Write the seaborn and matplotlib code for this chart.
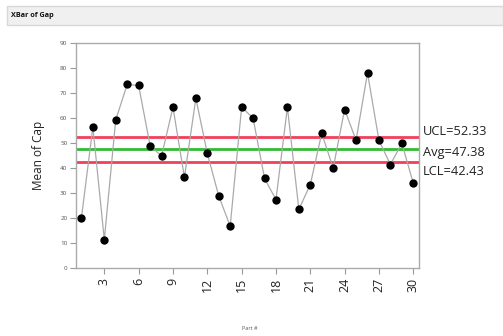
import matplotlib
matplotlib.use("Agg")
import matplotlib.pyplot as plt
import seaborn as sns
import pandas as pd
from matplotlib.patches import Rectangle

parts = list(range(1, 31))
means = [20.0, 56.3, 11.3, 59.2, 73.3, 72.9, 48.9, 44.7, 64.2, 36.2,
         67.8, 45.8, 28.8, 16.7, 64.2, 59.9, 35.8, 27.3, 64.2, 23.4,
         33.3, 53.8, 39.9, 63.3, 51.0, 77.9, 51.0, 41.3, 49.8, 33.9]
ucl = 52.33
avg = 47.38
lcl = 42.43
xticks = [3, 6, 9, 12, 15, 18, 21, 24, 27, 30]
yticks = [0, 10, 20, 30, 40, 50, 60, 70, 80, 90]

df = pd.DataFrame({"Part #": parts, "Mean of Cap": means})

sns.set_theme(style="white")
plt.rcParams['font.family'] = ['Open Sans', 'DejaVu Sans']

fig = plt.figure(figsize=(5.03, 3.36), dpi=100)
ax = fig.add_axes([0.1505, 0.2024, 0.6825, 0.6706])

# title bar
fig.patches.append(Rectangle((7 / 503, 1 - 25 / 336), 1 - 7 / 503, 19 / 336,
                             transform=fig.transFigure, facecolor="#f0f0f0",
                             edgecolor="#d8d8d8", linewidth=1, zorder=0))
fig.text(11 / 503, 1 - 15.5 / 336, "XBar of Gap", fontsize=5.2, fontweight="bold",
         va="center", ha="left", color="#111111")

ax.axhline(ucl, color="#f0405a", linewidth=2, zorder=1)
ax.axhline(lcl, color="#f0405a", linewidth=2, zorder=1)
ax.axhline(avg, color="#33bb33", linewidth=2, zorder=1)

sns.lineplot(data=df, x="Part #", y="Mean of Cap", ax=ax, color="#aaaaaa",
             linewidth=0.9, zorder=2)
sns.scatterplot(data=df, x="Part #", y="Mean of Cap", ax=ax, color="black",
                s=36, edgecolor="black", linewidth=0, zorder=3)

ax.set_xlim(0.5, 30.5)
ax.set_ylim(0, 90)
ax.set_xticks(xticks)
ax.set_xticklabels([str(t) for t in xticks], rotation=90, fontsize=9,
                   color="#222222")
ax.set_yticks(yticks)
ax.set_yticklabels([str(t) for t in yticks], fontsize=4.5, color="#555555")
ax.tick_params(axis="both", direction="out", length=4, width=0.8,
               color="#999999", left=True, bottom=True, pad=2)
ax.tick_params(axis="x", pad=3)
for s in ax.spines.values():
    s.set_color("#aaaaaa")
    s.set_linewidth(1.0)

ax.set_ylabel("Mean of Cap", fontsize=8.5, color="#222222", labelpad=11)
ax.set_xlabel("")
fig.text(250 / 503, 1 - 328 / 336, "Part #", fontsize=4, color="#555555",
         ha="center", va="center")

for val, lab, dy in [(ucl, "UCL=52.33", 5.3), (avg, "Avg=47.38", -2.7),
                     (lcl, "LCL=42.43", -9.5)]:
    ax.annotate(lab, xy=(1.0, val), xycoords=("axes fraction", "data"),
                xytext=(3, dy * 0.72), textcoords="offset points",
                fontsize=9.3, va="center", ha="left", color="#222222",
                annotation_clip=False)

fig.savefig("out.png", dpi=100)
